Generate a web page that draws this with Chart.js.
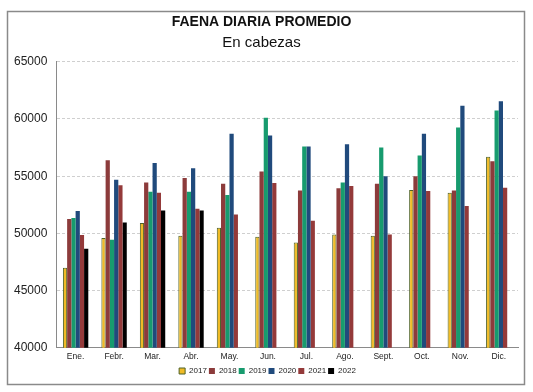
<!DOCTYPE html>
<html>
<head>
<meta charset="utf-8">
<script src="https://cdn.jsdelivr.net/npm/chart.js@4"></script>
<style>
  html, body { margin: 0; padding: 0; background: #fff; }
  canvas { display: block; }
</style>
</head>
<body>
<canvas id="faena" width="533" height="392"></canvas>
<script>
// meses y faena por año (cabezas / día)
const months = ['Ene.', 'Febr.', 'Mar.', 'Abr.', 'May.', 'Jun.', 'Jul.', 'Ago.', 'Sept.', 'Oct.', 'Nov.', 'Dic.'];
const years = ['2017', '2018', '2019', '2020', '2021', '2022'];

const faena2017 = [47000, 49600, 50900, 49800, 50500, 49700, 49200, 49900, 49800, 53800, 53550, 56700];
const faena2018 = [51250, 56400, 54450, 54850, 54350, 55400, 53750, 53950, 54350, 55000, 53750, 56300];
const faena2019 = [51350, 49450, 53650, 53650, 53350, 60100, 57600, 54450, 57500, 56800, 59250, 60750];
const faena2020 = [51950, 54700, 56150, 55700, 58700, 58550, 57600, 57800, 55000, 58700, 61150, 61550];
const faena2021 = [49850, 54200, 53550, 52150, 51650, 54400, 51100, 54150, 49900, 53700, 52400, 54000];
const faena2022 = [48650, 50950, 52000, 52000, null, null, null, null, null, null, null, null];

const fills = ['#f0bb26', '#8c3b3b', '#179b6e', '#204a7c', '#943a3a', '#000000'];
const borders = ['#4f6228', '#8c3b3b', '#179b6e', '#204a7c', '#943a3a', '#000000'];

const series = [faena2017, faena2018, faena2019, faena2020, faena2021, faena2022];

const framePlugin = {
    id: 'frame',
    beforeDraw(chart) {
        const ctx = chart.ctx;
        ctx.save();
        ctx.strokeStyle = '#8a8a8a';
        ctx.lineWidth = 1.5;
        ctx.strokeRect(7.5, 11.5, 517, 373);
        ctx.restore();
    },
    // la leyenda del original está un poco corrida a la derecha
    afterLayout(chart) {
        chart.legend.left += 6;
        chart.legend.right += 6;
    }
};

const ctx = document.getElementById('faena').getContext('2d');
new Chart(ctx, {
    type: 'bar',
    data: {
        labels: months,
        datasets: years.map((y, i) => ({
            label: y,
            data: series[i],
            backgroundColor: fills[i],
            borderColor: borders[i],
            borderWidth: i === 0 ? 1 : 0,
            categoryPercentage: 0.66,
            barPercentage: 1.0
        }))
    },
    options: {
        responsive: false,
        animation: false,
        devicePixelRatio: 1,
        layout: {
            padding: { left: 5, right: 15, top: 0, bottom: 7 }
        },
        plugins: {
            title: {
                display: true,
                text: 'FAENA DIARIA PROMEDIO',
                color: '#111',
                font: { family: 'Arial, "Liberation Sans"', size: 14, weight: 'bold' },
                padding: { top: 14, bottom: 1 }
            },
            subtitle: {
                display: true,
                text: 'En cabezas',
                color: '#111',
                font: { family: 'Arial, "Liberation Sans"', size: 15 },
                padding: { top: 2, bottom: 10 }
            },
            legend: {
                position: 'bottom',
                labels: {
                    boxWidth: 6,
                    boxHeight: 6,
                    padding: 2,
                    color: '#222',
                    font: { family: 'Arial, "Liberation Sans"', size: 8 }
                }
            },
            tooltip: { enabled: false }
        },
        scales: {
            x: {
                grid: { display: false, drawTicks: false },
                border: { display: true, color: '#8a8a8a', width: 1 },
                ticks: {
                    color: '#222',
                    padding: 4,
                    autoSkip: false,
                    maxRotation: 0,
                    font: { family: 'Arial, "Liberation Sans"', size: 8.5 }
                },
                afterFit: (s) => { s.height -= 1; }
            },
            y: {
                min: 40000,
                max: 65000,
                grid: { color: '#cfcfcf', lineWidth: 1, drawTicks: false },
                border: { display: true, color: '#8a8a8a', width: 1, dash: [3, 2] },
                ticks: {
                    stepSize: 5000,
                    color: '#222',
                    padding: 9,
                    font: { family: 'Arial, "Liberation Sans"', size: 12 },
                    callback: (v) => String(v)
                }
            }
        }
    },
    plugins: [framePlugin]
});
</script>
</body>
</html>
